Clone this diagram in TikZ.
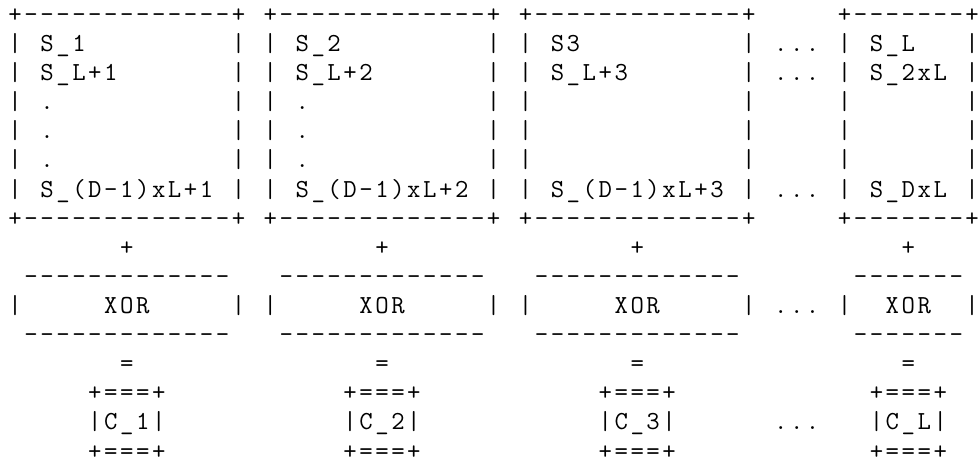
\documentclass[tikz,border=0pt]{standalone}
\usepackage{tikz}

% width of one character cell
\newlength\cellw
\setlength\cellw{15.95pt}

% put every character of a row in its own cell
\newcommand{\asciirow}[1]{\asciicell#1\relax}
\def\asciicell#1{\ifx\relax#1\else\makebox[\cellw][c]{#1}\expandafter\asciicell\fi}

\tikzset{
    row/.style={anchor=base west, inner sep=0pt, font=\ttfamily\fontsize{26}{29}\selectfont}
}

\begin{document}
\begin{tikzpicture}[x=1pt, y=1pt]
    \fill[white] (0,0) rectangle (980,-465);
    \useasboundingbox (0,0) rectangle (980,-465);

    % State blocks S_1 ... S_DxL
    \node[row] (top)  at (7,-22.5)  {\asciirow{+-------------+~+-------------+~+-------------+~~~~~+-------+}};
    \node[row] (s1)   at (7,-51.6)  {\asciirow{|~S\_1~~~~~~~~~|~|~S\_2~~~~~~~~~|~|~S3~~~~~~~~~~|~...~|~S\_L~~~|}};
    \node[row] (s2)   at (7,-80.7)  {\asciirow{|~S\_L+1~~~~~~~|~|~S\_L+2~~~~~~~|~|~S\_L+3~~~~~~~|~...~|~S\_2xL~|}};
    \node[row] (dot1) at (7,-109.8) {\asciirow{|~.~~~~~~~~~~~|~|~.~~~~~~~~~~~|~|~~~~~~~~~~~~~|~~~~~|~~~~~~~|}};
    \node[row] (dot2) at (7,-138.9) {\asciirow{|~.~~~~~~~~~~~|~|~.~~~~~~~~~~~|~|~~~~~~~~~~~~~|~~~~~|~~~~~~~|}};
    \node[row] (dot3) at (7,-168.0) {\asciirow{|~.~~~~~~~~~~~|~|~.~~~~~~~~~~~|~|~~~~~~~~~~~~~|~~~~~|~~~~~~~|}};
    \node[row] (sd)   at (7,-197.1) {\asciirow{|~S\_(D-1)xL+1~|~|~S\_(D-1)xL+2~|~|~S\_(D-1)xL+3~|~...~|~S\_DxL~|}};
    \node[row] (bot)  at (7,-226.2) {\asciirow{+-------------+~+-------------+~+-------------+~~~~~+-------+}};

    % XOR row
    \node[row] (plus) at (7,-255.3) {\asciirow{~~~~~~~+~~~~~~~~~~~~~~~+~~~~~~~~~~~~~~~+~~~~~~~~~~~~~~~~+}};
    \node[row] (xtop) at (7,-284.4) {\asciirow{~-------------~~~-------------~~~-------------~~~~~~~-------}};
    \node[row] (xor)  at (7,-313.5) {\asciirow{|~~~~~XOR~~~~~|~|~~~~~XOR~~~~~|~|~~~~~XOR~~~~~|~...~|~~XOR~~|}};
    \node[row] (xbot) at (7,-342.6) {\asciirow{~-------------~~~-------------~~~-------------~~~~~~~-------}};

    % Output C_1 ... C_L
    \node[row] (eq)   at (7,-371.7) {\asciirow{~~~~~~~=~~~~~~~~~~~~~~~=~~~~~~~~~~~~~~~=~~~~~~~~~~~~~~~~=}};
    \node[row] (ctop) at (7,-400.8) {\asciirow{~~~~~+===+~~~~~~~~~~~+===+~~~~~~~~~~~+===+~~~~~~~~~~~~+===+}};
    \node[row] (c)    at (7,-429.9) {\asciirow{~~~~~|C\_1|~~~~~~~~~~~|C\_2|~~~~~~~~~~~|C\_3|~~~~~~...~~~|C\_L|}};
    \node[row] (cbot) at (7,-459.0) {\asciirow{~~~~~+===+~~~~~~~~~~~+===+~~~~~~~~~~~+===+~~~~~~~~~~~~+===+}};
\end{tikzpicture}
\end{document}
